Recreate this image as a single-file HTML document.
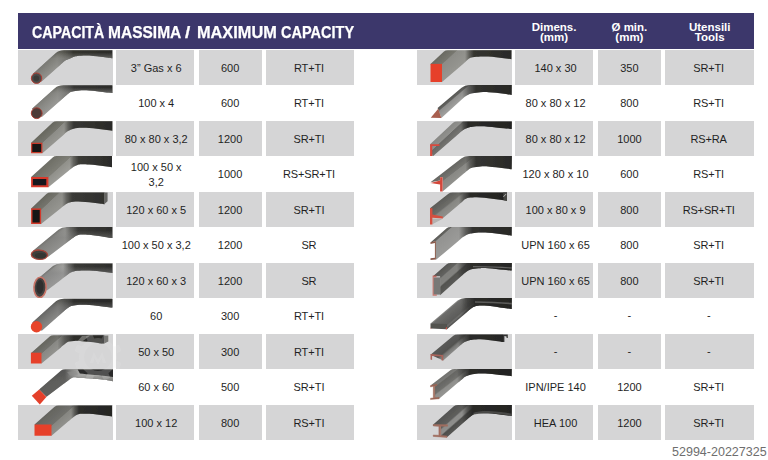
<!DOCTYPE html>
<html lang="it">
<head>
<meta charset="utf-8">
<title>Capacit&agrave; massima / Maximum capacity</title>
<style>
html,body{margin:0;padding:0;}
body{width:768px;height:460px;position:relative;overflow:hidden;background:#fff;font-family:"Liberation Sans",sans-serif;}
.hdr{position:absolute;left:18px;top:13px;width:736.1px;height:36.3px;background:#3c376b;}
.ttl{position:absolute;top:22.9px;color:#fff;font-weight:bold;font-size:15.7px;line-height:20px;white-space:pre;transform-origin:0 50%;-webkit-text-stroke:0.25px #fff;}
.hc{position:absolute;top:21.6px;color:#fff;font-weight:bold;font-size:11.5px;line-height:10.3px;text-align:center;white-space:nowrap;}
.g{position:absolute;background:#d5d5d6;}
.t{position:absolute;box-sizing:border-box;padding-top:1.5px;display:flex;align-items:center;justify-content:center;text-align:center;color:#1f1f1f;font-size:11px;line-height:12.6px;white-space:nowrap;}
.t span{position:relative;display:block;}
.t .a{left:1.5px;}
.t .b{left:-1.1px;letter-spacing:-0.15px;}
.t .m{line-height:15px;}
.im{position:absolute;overflow:hidden;}
.im svg{position:absolute;left:0;top:0;display:block;}
.wm{position:absolute;right:1.4px;top:444.8px;font-size:12.5px;line-height:15px;color:#6e6e6e;white-space:nowrap;}
</style>
</head>
<body>
<svg width="0" height="0" style="position:absolute"><defs><filter id="sb" x="-5%" y="-10%" width="110%" height="120%"><feGaussianBlur stdDeviation="0.45"/></filter></defs></svg>
<div class="hdr"></div>
<div class="ttl" style="left:31.5px;transform:scaleX(0.905)">CAPACIT&Agrave;</div>
<div class="ttl" style="left:108px;transform:scaleX(0.99)">MASSIMA</div>
<div class="ttl" style="left:184.6px;transform:scaleX(1.2)">/</div>
<div class="ttl" style="left:197.3px;transform:scaleX(1.04)">MAXIMUM</div>
<div class="ttl" style="left:280.5px;transform:scaleX(0.925)">CAPACITY</div>
<div class="hc" style="left:515.1px;width:77.9px">Dimens.<br>(mm)</div>
<div class="hc" style="left:597.9px;width:63px">&Oslash; min.<br>(mm)</div>
<div class="hc" style="left:665.4px;width:88.7px">Utensili<br>Tools</div>
<div class="im g" style="left:18px;top:49.5px;width:95.2px;height:35.5px"><svg width="95.2" height="35.5" viewBox="0 0 95.2 35.5"><defs><linearGradient id="L0a" gradientUnits="userSpaceOnUse" x1="14.75" y1="23.9" x2="22.55" y2="32.5"><stop offset="0" stop-color="#5f5f59"/><stop offset="0.35" stop-color="#77776f"/><stop offset="1" stop-color="#a0a09c"/></linearGradient><linearGradient id="L0b" gradientUnits="userSpaceOnUse" x1="38.9" y1="0" x2="95" y2="0"><stop offset="0" stop-color="#35352f" stop-opacity="0"/><stop offset="0.13" stop-color="#35352f" stop-opacity="0.55"/><stop offset="0.29" stop-color="#35352f" stop-opacity="1"/><stop offset="1" stop-color="#2c2c2a" stop-opacity="1"/></linearGradient><linearGradient id="L0c" gradientUnits="userSpaceOnUse" x1="0" y1="2.5" x2="0" y2="8.5"><stop offset="0" stop-color="#8a8a86" stop-opacity="0"/><stop offset="1" stop-color="#8a8a86" stop-opacity="0.6"/></linearGradient></defs><g filter="url(#sb)"><path d="M14.75,23.9 L37.84,2.94 Q40.81,0.25 46.01,0.25 L94.3,0.25 L94.3,8.3 C93.72,8.2 92.68,7.97 90.8,7.7 C88.92,7.43 85.6,7 83,6.7 C80.4,6.4 77.82,6.08 75.2,5.9 C72.58,5.72 69.92,5.58 67.3,5.6 C64.68,5.62 61.38,5.82 59.5,6 C57.62,6.18 57.25,6.28 56,6.7 C54.75,7.12 53.52,7.83 52,8.5 C50.48,9.18 48.5,9.71 46.9,10.75 C45.3,11.79 43.17,14.08 42.42,14.75 L23.1,32 Z" fill="url(#L0a)"/><path d="M14.75,23.9 L37.84,2.94 Q40.81,0.25 46.01,0.25 L94.3,0.25 L94.3,8.3 C93.72,8.2 92.68,7.97 90.8,7.7 C88.92,7.43 85.6,7 83,6.7 C80.4,6.4 77.82,6.08 75.2,5.9 C72.58,5.72 69.92,5.58 67.3,5.6 C64.68,5.62 61.38,5.82 59.5,6 C57.62,6.18 57.25,6.28 56,6.7 C54.75,7.12 53.52,7.83 52,8.5 C50.48,9.18 48.5,9.71 46.9,10.75 C45.3,11.79 43.17,14.08 42.42,14.75 L23.1,32 Z" fill="url(#L0b)"/><path d="M14.75,23.9 L37.84,2.94 Q40.81,0.25 46.01,0.25 L94.3,0.25 L94.3,8.3 C93.72,8.2 92.68,7.97 90.8,7.7 C88.92,7.43 85.6,7 83,6.7 C80.4,6.4 77.82,6.08 75.2,5.9 C72.58,5.72 69.92,5.58 67.3,5.6 C64.68,5.62 61.38,5.82 59.5,6 C57.62,6.18 57.25,6.28 56,6.7 C54.75,7.12 53.52,7.83 52,8.5 C50.48,9.18 48.5,9.71 46.9,10.75 C45.3,11.79 43.17,14.08 42.42,14.75 L23.1,32 Z" fill="url(#L0c)"/><circle cx="18.55" cy="28.2" r="5.2" fill="#4b4b49" stroke="#b33a30" stroke-width="1"/><circle cx="18.3" cy="28.4" r="2.8" fill="#3a3a38"/></g></svg></div>
<div class="t g" style="left:115.5px;top:49.5px;width:78.4px;height:35.5px"><span class="a">3&#8221; Gas x 6</span></div>
<div class="t g" style="left:198.6px;top:49.5px;width:63px;height:35.5px"><span>600</span></div>
<div class="t g" style="left:265.7px;top:49.5px;width:88.7px;height:35.5px"><span class="b">RT+TI</span></div>
<div class="im" style="left:18px;top:85px;width:95.2px;height:35.5px"><svg width="95.2" height="35.5" viewBox="0 0 95.2 35.5"><defs><linearGradient id="L1a" gradientUnits="userSpaceOnUse" x1="14" y1="23.75" x2="22.41" y2="33.1"><stop offset="0" stop-color="#66665f"/><stop offset="0.35" stop-color="#80807b"/><stop offset="1" stop-color="#a8a8a6"/></linearGradient><linearGradient id="L1b" gradientUnits="userSpaceOnUse" x1="39.8" y1="0" x2="95" y2="0"><stop offset="0" stop-color="#353533" stop-opacity="0"/><stop offset="0.13" stop-color="#353533" stop-opacity="0.55"/><stop offset="0.29" stop-color="#353533" stop-opacity="1"/><stop offset="1" stop-color="#2c2c2a" stop-opacity="1"/></linearGradient><linearGradient id="L1c" gradientUnits="userSpaceOnUse" x1="0" y1="2.5" x2="0" y2="8"><stop offset="0" stop-color="#8e8e8a" stop-opacity="0"/><stop offset="1" stop-color="#8e8e8a" stop-opacity="0.6"/></linearGradient></defs><g filter="url(#sb)"><path d="M14,23.75 L37.11,2.97 Q40.08,0.3 45.28,0.3 L94.45,0.3 L94.4,7.9 C93.15,7.78 89.47,7.43 86.9,7.15 C84.33,6.87 81.61,6.49 79,6.2 C76.39,5.91 73.85,5.57 71.25,5.4 C68.65,5.23 66.01,5.07 63.4,5.2 C60.79,5.33 57.55,5.82 55.6,6.2 C53.65,6.58 53,6.75 51.7,7.5 C50.4,8.25 49.2,9.51 47.8,10.7 C46.4,11.89 44.05,14.01 43.3,14.67 L23.75,31.9 Z" fill="url(#L1a)"/><path d="M14,23.75 L37.11,2.97 Q40.08,0.3 45.28,0.3 L94.45,0.3 L94.4,7.9 C93.15,7.78 89.47,7.43 86.9,7.15 C84.33,6.87 81.61,6.49 79,6.2 C76.39,5.91 73.85,5.57 71.25,5.4 C68.65,5.23 66.01,5.07 63.4,5.2 C60.79,5.33 57.55,5.82 55.6,6.2 C53.65,6.58 53,6.75 51.7,7.5 C50.4,8.25 49.2,9.51 47.8,10.7 C46.4,11.89 44.05,14.01 43.3,14.67 L23.75,31.9 Z" fill="url(#L1b)"/><path d="M14,23.75 L37.11,2.97 Q40.08,0.3 45.28,0.3 L94.45,0.3 L94.4,7.9 C93.15,7.78 89.47,7.43 86.9,7.15 C84.33,6.87 81.61,6.49 79,6.2 C76.39,5.91 73.85,5.57 71.25,5.4 C68.65,5.23 66.01,5.07 63.4,5.2 C60.79,5.33 57.55,5.82 55.6,6.2 C53.65,6.58 53,6.75 51.7,7.5 C50.4,8.25 49.2,9.51 47.8,10.7 C46.4,11.89 44.05,14.01 43.3,14.67 L23.75,31.9 Z" fill="url(#L1c)"/><circle cx="18.7" cy="28.2" r="5.4" fill="#4d3b38" stroke="#a8382c" stroke-width="0.9"/></g></svg></div>
<div class="t" style="left:115.5px;top:85px;width:78.4px;height:35.5px"><span class="a">100 x 4</span></div>
<div class="t" style="left:198.6px;top:85px;width:63px;height:35.5px"><span>600</span></div>
<div class="t" style="left:265.7px;top:85px;width:88.7px;height:35.5px"><span class="b">RT+TI</span></div>
<div class="im g" style="left:18px;top:120.5px;width:95.2px;height:35.5px"><svg width="95.2" height="35.5" viewBox="0 0 95.2 35.5"><defs><linearGradient id="L2a" gradientUnits="userSpaceOnUse" x1="13.1" y1="21.75" x2="23.61" y2="32.99"><stop offset="0" stop-color="#68685f"/><stop offset="0.5" stop-color="#75756e"/><stop offset="0.53" stop-color="#8c8c87"/><stop offset="1" stop-color="#969691"/></linearGradient><linearGradient id="L2b" gradientUnits="userSpaceOnUse" x1="46" y1="0" x2="95" y2="0"><stop offset="0" stop-color="#363632" stop-opacity="0"/><stop offset="0.09" stop-color="#363632" stop-opacity="0.55"/><stop offset="0.2" stop-color="#363632" stop-opacity="1"/><stop offset="1" stop-color="#2a2a28" stop-opacity="1"/></linearGradient></defs><g filter="url(#sb)"><path d="M13.1,21.75 L34.68,1.57 Q36.14,0.2 38.74,0.2 L94.3,0.2 L94.3,9.85 C93.07,9.68 89.45,9.17 86.9,8.8 C84.35,8.43 81.61,7.97 79,7.65 C76.39,7.33 73.85,7.06 71.25,6.9 C68.65,6.74 66.01,6.58 63.4,6.7 C60.79,6.83 57.83,7.08 55.6,7.65 C53.37,8.22 51.69,9.04 50,10.1 C48.31,11.16 46.22,13.37 45.46,14.03 L24.4,32.25 Z" fill="url(#L2a)"/><path d="M13.1,21.75 L34.68,1.57 Q36.14,0.2 38.74,0.2 L94.3,0.2 L94.3,9.85 C93.07,9.68 89.45,9.17 86.9,8.8 C84.35,8.43 81.61,7.97 79,7.65 C76.39,7.33 73.85,7.06 71.25,6.9 C68.65,6.74 66.01,6.58 63.4,6.7 C60.79,6.83 57.83,7.08 55.6,7.65 C53.37,8.22 51.69,9.04 50,10.1 C48.31,11.16 46.22,13.37 45.46,14.03 L24.4,32.25 Z" fill="url(#L2b)"/><rect x="13.7" y="22.35" width="10.1" height="9.3" fill="#151513" stroke="#cf3a2b" stroke-width="1.2"/></g></svg></div>
<div class="t g" style="left:115.5px;top:120.5px;width:78.4px;height:35.5px"><span class="a">80 x 80 x 3,2</span></div>
<div class="t g" style="left:198.6px;top:120.5px;width:63px;height:35.5px"><span>1200</span></div>
<div class="t g" style="left:265.7px;top:120.5px;width:88.7px;height:35.5px"><span class="b">SR+TI</span></div>
<div class="im" style="left:18px;top:156px;width:95.2px;height:35.5px"><svg width="95.2" height="35.5" viewBox="0 0 95.2 35.5"><defs><linearGradient id="L3a" gradientUnits="userSpaceOnUse" x1="13.1" y1="21" x2="26.01" y2="35.23"><stop offset="0" stop-color="#6e6e66"/><stop offset="0.6" stop-color="#7e7e76"/><stop offset="0.63" stop-color="#90908a"/><stop offset="1" stop-color="#9c9c97"/></linearGradient><linearGradient id="L3b" gradientUnits="userSpaceOnUse" x1="51.5" y1="0" x2="95" y2="0"><stop offset="0" stop-color="#3b3b37" stop-opacity="0"/><stop offset="0.09" stop-color="#3b3b37" stop-opacity="0.55"/><stop offset="0.21" stop-color="#3b3b37" stop-opacity="1"/><stop offset="1" stop-color="#2a2a28" stop-opacity="1"/></linearGradient></defs><g filter="url(#sb)"><path d="M13.1,21 L34.67,1.44 Q36.15,0.1 38.75,0.1 L94,0.1 L94,11.2 C92.82,11.05 89.4,10.62 86.9,10.3 C84.4,9.98 81.61,9.58 79,9.3 C76.39,9.02 73.85,8.77 71.25,8.6 C68.65,8.43 65.36,8.25 63.4,8.3 C61.44,8.35 60.8,8.5 59.5,8.9 C58.2,9.3 57.02,9.77 55.6,10.7 C54.18,11.63 51.73,13.86 50.95,14.49 L30.4,31.25 Z" fill="url(#L3a)"/><path d="M13.1,21 L34.67,1.44 Q36.15,0.1 38.75,0.1 L94,0.1 L94,11.2 C92.82,11.05 89.4,10.62 86.9,10.3 C84.4,9.98 81.61,9.58 79,9.3 C76.39,9.02 73.85,8.77 71.25,8.6 C68.65,8.43 65.36,8.25 63.4,8.3 C61.44,8.35 60.8,8.5 59.5,8.9 C58.2,9.3 57.02,9.77 55.6,10.7 C54.18,11.63 51.73,13.86 50.95,14.49 L30.4,31.25 Z" fill="url(#L3b)"/><rect x="13.1" y="21" width="17.3" height="10.25" fill="#d8392b"/><rect x="14.9" y="23" width="13.4" height="6.3" fill="#17171a"/></g></svg></div>
<div class="t" style="left:115.5px;top:156px;width:78.4px;height:35.5px"><span class="a m">100 x 50 x<br>3,2</span></div>
<div class="t" style="left:198.6px;top:156px;width:63px;height:35.5px"><span>1000</span></div>
<div class="t" style="left:265.7px;top:156px;width:88.7px;height:35.5px"><span class="b">RS+SR+TI</span></div>
<div class="im g" style="left:18px;top:191.5px;width:95.2px;height:35.5px"><svg width="95.2" height="35.5" viewBox="0 0 95.2 35.5"><defs><linearGradient id="L4a" gradientUnits="userSpaceOnUse" x1="13.1" y1="16.4" x2="25.58" y2="29.67"><stop offset="0" stop-color="#67675f"/><stop offset="0.42" stop-color="#74746d"/><stop offset="0.45" stop-color="#898984"/><stop offset="1" stop-color="#94948f"/></linearGradient><linearGradient id="L4b" gradientUnits="userSpaceOnUse" x1="44" y1="0" x2="95" y2="0"><stop offset="0" stop-color="#3a3a37" stop-opacity="0"/><stop offset="0.09" stop-color="#3a3a37" stop-opacity="0.55"/><stop offset="0.2" stop-color="#3a3a37" stop-opacity="1"/><stop offset="1" stop-color="#2e2e2c" stop-opacity="1"/></linearGradient></defs><g filter="url(#sb)"><path d="M13.1,16.4 L28.65,1.77 Q30.11,0.4 32.71,0.4 L86.5,0.4 L86.5,12.2 C85.92,12.12 84.88,11.93 83,11.7 C81.12,11.47 77.82,11.08 75.2,10.8 C72.58,10.52 69.92,10.2 67.3,10 C64.68,9.8 62.1,9.53 59.5,9.6 C56.9,9.67 53.65,9.95 51.7,10.4 C49.75,10.85 49.23,11.36 47.8,12.3 C46.37,13.24 43.89,15.42 43.11,16.04 L23.1,32 Z" fill="url(#L4a)"/><path d="M13.1,16.4 L28.65,1.77 Q30.11,0.4 32.71,0.4 L86.5,0.4 L86.5,12.2 C85.92,12.12 84.88,11.93 83,11.7 C81.12,11.47 77.82,11.08 75.2,10.8 C72.58,10.52 69.92,10.2 67.3,10 C64.68,9.8 62.1,9.53 59.5,9.6 C56.9,9.67 53.65,9.95 51.7,10.4 C49.75,10.85 49.23,11.36 47.8,12.3 C46.37,13.24 43.89,15.42 43.11,16.04 L23.1,32 Z" fill="url(#L4b)"/><path d="M86.3,0.5 L89.6,0.5 L89.6,9.2 L86.3,12.2 Z" fill="#666663"/><rect x="13.1" y="16.4" width="10" height="15.6" fill="#d2382a"/><rect x="14.5" y="17.9" width="7.2" height="12.6" fill="#141412"/></g></svg></div>
<div class="t g" style="left:115.5px;top:191.5px;width:78.4px;height:35.5px"><span class="a">120 x 60 x 5</span></div>
<div class="t g" style="left:198.6px;top:191.5px;width:63px;height:35.5px"><span>1200</span></div>
<div class="t g" style="left:265.7px;top:191.5px;width:88.7px;height:35.5px"><span class="b">SR+TI</span></div>
<div class="im" style="left:18px;top:227px;width:95.2px;height:35.5px"><svg width="95.2" height="35.5" viewBox="0 0 95.2 35.5"><defs><linearGradient id="L5a" gradientUnits="userSpaceOnUse" x1="14.8" y1="24.1" x2="23.85" y2="34.93"><stop offset="0" stop-color="#70706c"/><stop offset="0.2" stop-color="#8a8a87"/><stop offset="1" stop-color="#a8a8a6"/></linearGradient><linearGradient id="L5b" gradientUnits="userSpaceOnUse" x1="47" y1="0" x2="95" y2="0"><stop offset="0" stop-color="#3a3a37" stop-opacity="0"/><stop offset="0.12" stop-color="#3a3a37" stop-opacity="0.55"/><stop offset="0.27" stop-color="#3a3a37" stop-opacity="1"/><stop offset="1" stop-color="#2d2d2b" stop-opacity="1"/></linearGradient><linearGradient id="L5c" gradientUnits="userSpaceOnUse" x1="0" y1="3.5" x2="0" y2="10.5"><stop offset="0" stop-color="#7a7a77" stop-opacity="0"/><stop offset="1" stop-color="#7a7a77" stop-opacity="0.5"/></linearGradient></defs><g filter="url(#sb)"><path d="M14.8,24.1 L40.45,2.67 Q43.52,0.1 48.72,0.1 L94.45,0.1 L94.4,11 C93.15,10.82 89.47,10.28 86.9,9.9 C84.33,9.52 81.61,9.05 79,8.7 C76.39,8.35 73.85,8 71.25,7.8 C68.65,7.6 65.36,7.42 63.4,7.5 C61.44,7.58 60.57,7.98 59.5,8.3 C58.43,8.62 57.92,8.85 57,9.4 C56.08,9.95 55.3,10.63 54,11.6 C52.7,12.57 50.01,14.62 49.22,15.22 L30.1,29.7 L21.45,27.75 Z" fill="url(#L5a)"/><path d="M14.8,24.1 L40.45,2.67 Q43.52,0.1 48.72,0.1 L94.45,0.1 L94.4,11 C93.15,10.82 89.47,10.28 86.9,9.9 C84.33,9.52 81.61,9.05 79,8.7 C76.39,8.35 73.85,8 71.25,7.8 C68.65,7.6 65.36,7.42 63.4,7.5 C61.44,7.58 60.57,7.98 59.5,8.3 C58.43,8.62 57.92,8.85 57,9.4 C56.08,9.95 55.3,10.63 54,11.6 C52.7,12.57 50.01,14.62 49.22,15.22 L30.1,29.7 L21.45,27.75 Z" fill="url(#L5b)"/><path d="M14.8,24.1 L40.45,2.67 Q43.52,0.1 48.72,0.1 L94.45,0.1 L94.4,11 C93.15,10.82 89.47,10.28 86.9,9.9 C84.33,9.52 81.61,9.05 79,8.7 C76.39,8.35 73.85,8 71.25,7.8 C68.65,7.6 65.36,7.42 63.4,7.5 C61.44,7.58 60.57,7.98 59.5,8.3 C58.43,8.62 57.92,8.85 57,9.4 C56.08,9.95 55.3,10.63 54,11.6 C52.7,12.57 50.01,14.62 49.22,15.22 L30.1,29.7 L21.45,27.75 Z" fill="url(#L5c)"/><g transform="rotate(4 21.45 27.75)"><ellipse cx="21.45" cy="27.75" rx="8.1" ry="4.7" fill="#3f3f3d" stroke="#a8443a" stroke-width="1.3"/><ellipse cx="22.6" cy="28.5" rx="5.6" ry="2.6" fill="#343432"/></g></g></svg></div>
<div class="t" style="left:115.5px;top:227px;width:78.4px;height:35.5px"><span class="a">100 x 50 x 3,2</span></div>
<div class="t" style="left:198.6px;top:227px;width:63px;height:35.5px"><span>1200</span></div>
<div class="t" style="left:265.7px;top:227px;width:88.7px;height:35.5px"><span class="b">SR</span></div>
<div class="im g" style="left:18px;top:262.5px;width:95.2px;height:35.5px"><svg width="95.2" height="35.5" viewBox="0 0 95.2 35.5"><defs><linearGradient id="L6a" gradientUnits="userSpaceOnUse" x1="22.05" y1="14" x2="31.61" y2="25.31"><stop offset="0" stop-color="#6a6a66"/><stop offset="0.15" stop-color="#92928f"/><stop offset="1" stop-color="#b4b4b2"/></linearGradient><linearGradient id="L6b" gradientUnits="userSpaceOnUse" x1="45" y1="0" x2="95" y2="0"><stop offset="0" stop-color="#3a3a37" stop-opacity="0"/><stop offset="0.11" stop-color="#3a3a37" stop-opacity="0.55"/><stop offset="0.24" stop-color="#3a3a37" stop-opacity="1"/><stop offset="1" stop-color="#2d2d2b" stop-opacity="1"/></linearGradient><linearGradient id="L6c" gradientUnits="userSpaceOnUse" x1="0" y1="3.5" x2="0" y2="10"><stop offset="0" stop-color="#808080" stop-opacity="0"/><stop offset="1" stop-color="#808080" stop-opacity="0.55"/></linearGradient></defs><g filter="url(#sb)"><path d="M22.05,14 L35.01,3.03 Q38.07,0.45 43.27,0.45 L94.45,0.45 L94.4,10 C93.15,9.85 89.47,9.43 86.9,9.1 C84.33,8.77 81.61,8.27 79,8 C76.39,7.73 73.85,7.58 71.25,7.5 C68.65,7.42 66.01,7.35 63.4,7.5 C60.79,7.65 57.55,7.98 55.6,8.4 C53.65,8.82 53,9.22 51.7,10 C50.4,10.78 49.24,11.97 47.8,13.1 C46.36,14.23 43.83,16.14 43.04,16.75 L28.9,27.6 L22.05,24.4 Z" fill="url(#L6a)"/><path d="M22.05,14 L35.01,3.03 Q38.07,0.45 43.27,0.45 L94.45,0.45 L94.4,10 C93.15,9.85 89.47,9.43 86.9,9.1 C84.33,8.77 81.61,8.27 79,8 C76.39,7.73 73.85,7.58 71.25,7.5 C68.65,7.42 66.01,7.35 63.4,7.5 C60.79,7.65 57.55,7.98 55.6,8.4 C53.65,8.82 53,9.22 51.7,10 C50.4,10.78 49.24,11.97 47.8,13.1 C46.36,14.23 43.83,16.14 43.04,16.75 L28.9,27.6 L22.05,24.4 Z" fill="url(#L6b)"/><path d="M22.05,14 L35.01,3.03 Q38.07,0.45 43.27,0.45 L94.45,0.45 L94.4,10 C93.15,9.85 89.47,9.43 86.9,9.1 C84.33,8.77 81.61,8.27 79,8 C76.39,7.73 73.85,7.58 71.25,7.5 C68.65,7.42 66.01,7.35 63.4,7.5 C60.79,7.65 57.55,7.98 55.6,8.4 C53.65,8.82 53,9.22 51.7,10 C50.4,10.78 49.24,11.97 47.8,13.1 C46.36,14.23 43.83,16.14 43.04,16.75 L28.9,27.6 L22.05,24.4 Z" fill="url(#L6c)"/><g transform="rotate(3 22.05 24.4)"><ellipse cx="22.05" cy="24.4" rx="6.1" ry="10.1" fill="#424240" stroke="#c87468" stroke-width="1.6"/><ellipse cx="21.9" cy="24" rx="3.6" ry="7" fill="#2f2f2d"/></g></g></svg></div>
<div class="t g" style="left:115.5px;top:262.5px;width:78.4px;height:35.5px"><span class="a">120 x 60 x 3</span></div>
<div class="t g" style="left:198.6px;top:262.5px;width:63px;height:35.5px"><span>1200</span></div>
<div class="t g" style="left:265.7px;top:262.5px;width:88.7px;height:35.5px"><span class="b">SR</span></div>
<div class="im" style="left:18px;top:298px;width:95.2px;height:35.5px"><svg width="95.2" height="35.5" viewBox="0 0 95.2 35.5"><defs><linearGradient id="L7a" gradientUnits="userSpaceOnUse" x1="14.4" y1="24.4" x2="22.71" y2="33.68"><stop offset="0" stop-color="#585855"/><stop offset="0.4" stop-color="#767672"/><stop offset="1" stop-color="#9a9a97"/></linearGradient><linearGradient id="L7b" gradientUnits="userSpaceOnUse" x1="39.8" y1="0" x2="95" y2="0"><stop offset="0" stop-color="#2f2f2d" stop-opacity="0"/><stop offset="0.13" stop-color="#2f2f2d" stop-opacity="0.55"/><stop offset="0.29" stop-color="#2f2f2d" stop-opacity="1"/><stop offset="1" stop-color="#2a2a28" stop-opacity="1"/></linearGradient><linearGradient id="L7c" gradientUnits="userSpaceOnUse" x1="0" y1="3.5" x2="0" y2="9.5"><stop offset="0" stop-color="#777" stop-opacity="0"/><stop offset="1" stop-color="#777" stop-opacity="0.5"/></linearGradient></defs><g filter="url(#sb)"><path d="M14.4,24.4 L37.91,3.37 Q40.89,0.7 46.09,0.7 L94.45,0.7 L94.4,9.5 C93.15,9.37 89.47,8.98 86.9,8.7 C84.33,8.42 81.61,8.08 79,7.8 C76.39,7.52 73.85,7.17 71.25,7 C68.65,6.83 66.01,6.67 63.4,6.75 C60.79,6.83 57.55,7.17 55.6,7.5 C53.65,7.83 53,8.04 51.7,8.7 C50.4,9.36 49.2,10.33 47.8,11.45 C46.4,12.57 44.06,14.77 43.31,15.43 L23.75,32.75 Z" fill="url(#L7a)"/><path d="M14.4,24.4 L37.91,3.37 Q40.89,0.7 46.09,0.7 L94.45,0.7 L94.4,9.5 C93.15,9.37 89.47,8.98 86.9,8.7 C84.33,8.42 81.61,8.08 79,7.8 C76.39,7.52 73.85,7.17 71.25,7 C68.65,6.83 66.01,6.67 63.4,6.75 C60.79,6.83 57.55,7.17 55.6,7.5 C53.65,7.83 53,8.04 51.7,8.7 C50.4,9.36 49.2,10.33 47.8,11.45 C46.4,12.57 44.06,14.77 43.31,15.43 L23.75,32.75 Z" fill="url(#L7b)"/><path d="M14.4,24.4 L37.91,3.37 Q40.89,0.7 46.09,0.7 L94.45,0.7 L94.4,9.5 C93.15,9.37 89.47,8.98 86.9,8.7 C84.33,8.42 81.61,8.08 79,7.8 C76.39,7.52 73.85,7.17 71.25,7 C68.65,6.83 66.01,6.67 63.4,6.75 C60.79,6.83 57.55,7.17 55.6,7.5 C53.65,7.83 53,8.04 51.7,8.7 C50.4,9.36 49.2,10.33 47.8,11.45 C46.4,12.57 44.06,14.77 43.31,15.43 L23.75,32.75 Z" fill="url(#L7c)"/><circle cx="18.5" cy="28.8" r="5.7" fill="#e7442b"/></g></svg></div>
<div class="t" style="left:115.5px;top:298px;width:78.4px;height:35.5px"><span class="a">60</span></div>
<div class="t" style="left:198.6px;top:298px;width:63px;height:35.5px"><span>300</span></div>
<div class="t" style="left:265.7px;top:298px;width:88.7px;height:35.5px"><span class="b">RT+TI</span></div>
<div class="im g" style="left:18px;top:333.5px;width:95.2px;height:35.5px"><svg width="95.2" height="35.5" viewBox="0 0 95.2 35.5"><defs><linearGradient id="L8a" gradientUnits="userSpaceOnUse" x1="13.1" y1="18.9" x2="22.86" y2="30.06"><stop offset="0" stop-color="#66665f"/><stop offset="0.48" stop-color="#72726d"/><stop offset="0.52" stop-color="#888884"/><stop offset="1" stop-color="#92928e"/></linearGradient><linearGradient id="L8b" gradientUnits="userSpaceOnUse" x1="39.5" y1="0" x2="95" y2="0"><stop offset="0" stop-color="#2f2f2c" stop-opacity="0"/><stop offset="0.13" stop-color="#2f2f2c" stop-opacity="0.55"/><stop offset="0.29" stop-color="#2f2f2c" stop-opacity="1"/><stop offset="1" stop-color="#262624" stop-opacity="1"/></linearGradient></defs><g filter="url(#sb)"><path d="M13.1,18.9 L31.71,2.62 Q33.21,1.3 35.81,1.3 L86.3,1.3 L86.3,9.6 C85.88,9.57 86,9.67 83.75,9.4 C81.5,9.13 76.42,8.42 72.8,8 C69.17,7.58 64.8,7.08 62,6.9 C59.2,6.72 57.83,6.78 56,6.9 C54.17,7.02 52.42,7.15 51,7.6 C49.58,8.05 48.85,8.63 47.5,9.6 C46.15,10.57 43.65,12.79 42.88,13.43 L23.5,29.5 Z" fill="url(#L8a)"/><path d="M13.1,18.9 L31.71,2.62 Q33.21,1.3 35.81,1.3 L86.3,1.3 L86.3,9.6 C85.88,9.57 86,9.67 83.75,9.4 C81.5,9.13 76.42,8.42 72.8,8 C69.17,7.58 64.8,7.08 62,6.9 C59.2,6.72 57.83,6.78 56,6.9 C54.17,7.02 52.42,7.15 51,7.6 C49.58,8.05 48.85,8.63 47.5,9.6 C46.15,10.57 43.65,12.79 42.88,13.43 L23.5,29.5 Z" fill="url(#L8b)"/><path d="M59.7,6.9 L64,2.1 L72,1.8 L64.8,6.9 Z" fill="#8a8a87" opacity="0.7"/><path d="M85.8,1.5 L90.3,1.5 L90.3,7.4 L86.3,9.6 Z" fill="#5c5c58"/><rect x="12.9" y="18.7" width="10.6" height="10.8" fill="#e6412c"/></g></svg></div>
<div class="t g" style="left:115.5px;top:333.5px;width:78.4px;height:35.5px"><span class="a">50 x 50</span></div>
<div class="t g" style="left:198.6px;top:333.5px;width:63px;height:35.5px"><span>300</span></div>
<div class="t g" style="left:265.7px;top:333.5px;width:88.7px;height:35.5px"><span class="b">RT+TI</span></div>
<div class="im" style="left:18px;top:369px;width:95.2px;height:35.5px"><svg width="95.2" height="35.5" viewBox="0 0 95.2 35.5"><defs><linearGradient id="L9a" gradientUnits="userSpaceOnUse" x1="21.25" y1="20.6" x2="27.92" y2="28.26"><stop offset="0" stop-color="#555553"/><stop offset="1" stop-color="#5e5e5c"/></linearGradient><linearGradient id="L9b" gradientUnits="userSpaceOnUse" x1="47" y1="0" x2="95" y2="0"><stop offset="0" stop-color="#a6a6a4" stop-opacity="0"/><stop offset="0.13" stop-color="#a6a6a4" stop-opacity="0.55"/><stop offset="0.29" stop-color="#a6a6a4" stop-opacity="1"/><stop offset="1" stop-color="#9a9a98" stop-opacity="1"/></linearGradient><linearGradient id="L9c" gradientUnits="userSpaceOnUse" x1="0" y1="6.5" x2="0" y2="12.5"><stop offset="0" stop-color="#62625f" stop-opacity="0"/><stop offset="1" stop-color="#62625f" stop-opacity="0.55"/></linearGradient></defs><g filter="url(#sb)"><path d="M21.25,20.6 L43.05,1.61 Q44.55,0.3 47.15,0.3 L95.1,0.3 L95.1,12.3 C93.82,12.05 90.5,11.23 87.4,10.8 C84.3,10.37 80.73,10.02 76.5,9.7 C72.27,9.38 65.5,9.13 62,8.9 C58.5,8.67 57.42,7.92 55.5,8.3 C53.58,8.68 52.13,10.12 50.5,11.2 C48.87,12.28 46.5,14.21 45.71,14.81 L28.5,27.75 Z" fill="url(#L9a)"/><path d="M21.25,20.6 L43.05,1.61 Q44.55,0.3 47.15,0.3 L95.1,0.3 L95.1,12.3 C93.82,12.05 90.5,11.23 87.4,10.8 C84.3,10.37 80.73,10.02 76.5,9.7 C72.27,9.38 65.5,9.13 62,8.9 C58.5,8.67 57.42,7.92 55.5,8.3 C53.58,8.68 52.13,10.12 50.5,11.2 C48.87,12.28 46.5,14.21 45.71,14.81 L28.5,27.75 Z" fill="url(#L9b)"/><path d="M21.25,20.6 L43.05,1.61 Q44.55,0.3 47.15,0.3 L95.1,0.3 L95.1,12.3 C93.82,12.05 90.5,11.23 87.4,10.8 C84.3,10.37 80.73,10.02 76.5,9.7 C72.27,9.38 65.5,9.13 62,8.9 C58.5,8.67 57.42,7.92 55.5,8.3 C53.58,8.68 52.13,10.12 50.5,11.2 C48.87,12.28 46.5,14.21 45.71,14.81 L28.5,27.75 Z" fill="url(#L9c)"/><path d="M59.7,0.4 L95.1,0.4 L95.1,7.9 C88,7 82,6.4 76.5,6.0 C70,5.5 66,5 61.9,4.6 Z" fill="#2b2b29"/><path d="M49,3 L58,2 L60,5.4 L52,6.4 Z" fill="#8e8e8c" opacity="0.55"/><path d="M13.8,26.8 L21.2,20.4 L28.4,27.9 L21.8,35.4 Z" fill="#e43f2b"/></g></svg></div>
<div class="t" style="left:115.5px;top:369px;width:78.4px;height:35.5px"><span class="a">60 x 60</span></div>
<div class="t" style="left:198.6px;top:369px;width:63px;height:35.5px"><span>500</span></div>
<div class="t" style="left:265.7px;top:369px;width:88.7px;height:35.5px"><span class="b">SR+TI</span></div>
<div class="im g" style="left:18px;top:404.5px;width:95.2px;height:35.5px"><svg width="95.2" height="35.5" viewBox="0 0 95.2 35.5"><defs><linearGradient id="L10a" gradientUnits="userSpaceOnUse" x1="16.5" y1="19.5" x2="29.51" y2="34.27"><stop offset="0" stop-color="#64645f"/><stop offset="0.6" stop-color="#70706c"/><stop offset="0.64" stop-color="#868681"/><stop offset="1" stop-color="#90908c"/></linearGradient><linearGradient id="L10b" gradientUnits="userSpaceOnUse" x1="53" y1="0" x2="95" y2="0"><stop offset="0" stop-color="#2e2e2c" stop-opacity="0"/><stop offset="0.09" stop-color="#2e2e2c" stop-opacity="0.55"/><stop offset="0.19" stop-color="#2e2e2c" stop-opacity="1"/><stop offset="1" stop-color="#242422" stop-opacity="1"/></linearGradient></defs><g filter="url(#sb)"><path d="M16.5,19.5 L36.57,1.82 Q38.07,0.5 40.67,0.5 L94,0.5 L94,11.4 C92.82,11.23 89.4,10.7 86.9,10.4 C84.4,10.1 81.61,9.87 79,9.6 C76.39,9.33 73.85,8.93 71.25,8.8 C68.65,8.67 65.36,8.67 63.4,8.8 C61.44,8.93 60.8,9.07 59.5,9.6 C58.2,10.12 57.01,10.91 55.6,11.95 C54.19,12.99 51.79,15.19 51.03,15.84 L33.5,30.75 Z" fill="url(#L10a)"/><path d="M16.5,19.5 L36.57,1.82 Q38.07,0.5 40.67,0.5 L94,0.5 L94,11.4 C92.82,11.23 89.4,10.7 86.9,10.4 C84.4,10.1 81.61,9.87 79,9.6 C76.39,9.33 73.85,8.93 71.25,8.8 C68.65,8.67 65.36,8.67 63.4,8.8 C61.44,8.93 60.8,9.07 59.5,9.6 C58.2,10.12 57.01,10.91 55.6,11.95 C54.19,12.99 51.79,15.19 51.03,15.84 L33.5,30.75 Z" fill="url(#L10b)"/><rect x="16.5" y="19.5" width="17" height="11.25" fill="#e6412c"/></g></svg></div>
<div class="t g" style="left:115.5px;top:404.5px;width:78.4px;height:35.5px"><span class="a">100 x 12</span></div>
<div class="t g" style="left:198.6px;top:404.5px;width:63px;height:35.5px"><span>800</span></div>
<div class="t g" style="left:265.7px;top:404.5px;width:88.7px;height:35.5px"><span class="b">RS+TI</span></div>
<div class="im g" style="left:417px;top:49.5px;width:95.1px;height:35.5px"><svg width="95.1" height="35.5" viewBox="0 0 95.1 35.5"><defs><linearGradient id="R0a" gradientUnits="userSpaceOnUse" x1="13.5" y1="13.9" x2="27.77" y2="29.45"><stop offset="0" stop-color="#6a6a62"/><stop offset="0.36" stop-color="#77776f"/><stop offset="0.4" stop-color="#8c8c87"/><stop offset="1" stop-color="#969691"/></linearGradient><linearGradient id="R0b" gradientUnits="userSpaceOnUse" x1="48" y1="0" x2="95" y2="0"><stop offset="0" stop-color="#34342f" stop-opacity="0"/><stop offset="0.09" stop-color="#34342f" stop-opacity="0.55"/><stop offset="0.19" stop-color="#34342f" stop-opacity="1"/><stop offset="1" stop-color="#2a2a28" stop-opacity="1"/></linearGradient></defs><g filter="url(#sb)"><path d="M13.5,13.9 L26.95,1.55 Q28.43,0.2 31.03,0.2 L94.45,0.2 L94.4,9.2 C93.15,9.05 89.47,8.62 86.9,8.3 C84.33,7.98 81.61,7.6 79,7.3 C76.39,7 73.85,6.63 71.25,6.5 C68.65,6.37 66.01,6.37 63.4,6.5 C60.79,6.63 57.55,6.92 55.6,7.3 C53.65,7.68 52.92,8.02 51.7,8.8 C50.48,9.58 49.63,10.82 48.3,12 C46.97,13.18 44.51,15.26 43.75,15.91 L25,32 Z" fill="url(#R0a)"/><path d="M13.5,13.9 L26.95,1.55 Q28.43,0.2 31.03,0.2 L94.45,0.2 L94.4,9.2 C93.15,9.05 89.47,8.62 86.9,8.3 C84.33,7.98 81.61,7.6 79,7.3 C76.39,7 73.85,6.63 71.25,6.5 C68.65,6.37 66.01,6.37 63.4,6.5 C60.79,6.63 57.55,6.92 55.6,7.3 C53.65,7.68 52.92,8.02 51.7,8.8 C50.48,9.58 49.63,10.82 48.3,12 C46.97,13.18 44.51,15.26 43.75,15.91 L25,32 Z" fill="url(#R0b)"/><rect x="13.5" y="13.9" width="11.5" height="18.1" fill="#e6412c"/></g></svg></div>
<div class="t g" style="left:515.1px;top:49.5px;width:77.9px;height:35.5px"><span class="a">140 x 30</span></div>
<div class="t g" style="left:597.9px;top:49.5px;width:63px;height:35.5px"><span>350</span></div>
<div class="t g" style="left:665.4px;top:49.5px;width:88.7px;height:35.5px"><span class="b">SR+TI</span></div>
<div class="im" style="left:417px;top:85px;width:95.1px;height:35.5px"><svg width="95.1" height="35.5" viewBox="0 0 95.1 35.5"><defs><linearGradient id="R1a" gradientUnits="userSpaceOnUse" x1="20.6" y1="23.1" x2="27.13" y2="30.77"><stop offset="0" stop-color="#555552"/><stop offset="0.25" stop-color="#62625f"/><stop offset="0.34" stop-color="#8e8e8c"/><stop offset="1" stop-color="#a2a2a0"/></linearGradient><linearGradient id="R1b" gradientUnits="userSpaceOnUse" x1="45" y1="0" x2="95" y2="0"><stop offset="0" stop-color="#31312f" stop-opacity="0"/><stop offset="0.13" stop-color="#31312f" stop-opacity="0.55"/><stop offset="0.28" stop-color="#31312f" stop-opacity="1"/><stop offset="1" stop-color="#282826" stop-opacity="1"/></linearGradient></defs><g filter="url(#sb)"><path d="M20.6,23.1 L44.56,2.69 Q47.6,0.1 52.8,0.1 L94.8,0.1 L94.7,9.9 C93.4,9.7 89.52,9.05 86.9,8.7 C84.28,8.35 81.61,8.06 79,7.8 C76.39,7.54 73.85,7.23 71.25,7.15 C68.65,7.07 66.01,7.11 63.4,7.3 C60.79,7.49 57.55,7.93 55.6,8.3 C53.65,8.67 53,8.92 51.7,9.5 C50.4,10.08 49.19,10.74 47.8,11.8 C46.41,12.86 44.1,15.17 43.36,15.84 L24.4,33.1 Z" fill="url(#R1a)"/><path d="M20.6,23.1 L44.56,2.69 Q47.6,0.1 52.8,0.1 L94.8,0.1 L94.7,9.9 C93.4,9.7 89.52,9.05 86.9,8.7 C84.28,8.35 81.61,8.06 79,7.8 C76.39,7.54 73.85,7.23 71.25,7.15 C68.65,7.07 66.01,7.11 63.4,7.3 C60.79,7.49 57.55,7.93 55.6,8.3 C53.65,8.67 53,8.92 51.7,9.5 C50.4,10.08 49.19,10.74 47.8,11.8 C46.41,12.86 44.1,15.17 43.36,15.84 L24.4,33.1 Z" fill="url(#R1b)"/><path d="M13.75,32.75 L21.25,23.75 L24.4,33.1 Z" fill="#a85e4f"/></g></svg></div>
<div class="t" style="left:515.1px;top:85px;width:77.9px;height:35.5px"><span class="a">80 x 80 x 12</span></div>
<div class="t" style="left:597.9px;top:85px;width:63px;height:35.5px"><span>800</span></div>
<div class="t" style="left:665.4px;top:85px;width:88.7px;height:35.5px"><span class="b">RS+TI</span></div>
<div class="im g" style="left:417px;top:120.5px;width:95.1px;height:35.5px"><svg width="95.1" height="35.5" viewBox="0 0 95.1 35.5"><defs><linearGradient id="R2a" gradientUnits="userSpaceOnUse" x1="13.1" y1="23.25" x2="20.37" y2="31.05"><stop offset="0" stop-color="#888885"/><stop offset="0.5" stop-color="#90908d"/><stop offset="0.56" stop-color="#686865"/><stop offset="1" stop-color="#72726f"/></linearGradient><linearGradient id="R2b" gradientUnits="userSpaceOnUse" x1="44" y1="0" x2="95" y2="0"><stop offset="0" stop-color="#2a2a28" stop-opacity="0"/><stop offset="0.06" stop-color="#2a2a28" stop-opacity="0.55"/><stop offset="0.14" stop-color="#2a2a28" stop-opacity="1"/><stop offset="1" stop-color="#242422" stop-opacity="1"/></linearGradient></defs><g filter="url(#sb)"><path d="M13.1,23.25 L36.09,1.81 Q37.55,0.45 40.15,0.45 L94.8,0.45 L94.7,8 C93.4,7.88 89.52,7.55 86.9,7.3 C84.28,7.05 81.61,6.77 79,6.5 C76.39,6.23 73.85,5.9 71.25,5.7 C68.65,5.5 66.01,5.3 63.4,5.3 C60.79,5.3 57.55,5.5 55.6,5.7 C53.65,5.9 53,6.12 51.7,6.5 C50.4,6.88 49.08,7.3 47.8,8 C46.52,8.7 45.39,9.59 44,10.7 C42.61,11.81 40.23,13.99 39.48,14.65 L15.6,35.5 Z" fill="url(#R2a)"/><path d="M13.1,23.25 L36.09,1.81 Q37.55,0.45 40.15,0.45 L94.8,0.45 L94.7,8 C93.4,7.88 89.52,7.55 86.9,7.3 C84.28,7.05 81.61,6.77 79,6.5 C76.39,6.23 73.85,5.9 71.25,5.7 C68.65,5.5 66.01,5.3 63.4,5.3 C60.79,5.3 57.55,5.5 55.6,5.7 C53.65,5.9 53,6.12 51.7,6.5 C50.4,6.88 49.08,7.3 47.8,8 C46.52,8.7 45.39,9.59 44,10.7 C42.61,11.81 40.23,13.99 39.48,14.65 L15.6,35.5 Z" fill="url(#R2b)"/><path d="M13.1,23.25 L22.5,23.25 L22.5,25.1 L15.25,25.1 L15.25,35.5 L13.1,35.5 Z" fill="#d8493c"/></g></svg></div>
<div class="t g" style="left:515.1px;top:120.5px;width:77.9px;height:35.5px"><span class="a">80 x 80 x 12</span></div>
<div class="t g" style="left:597.9px;top:120.5px;width:63px;height:35.5px"><span>1000</span></div>
<div class="t g" style="left:665.4px;top:120.5px;width:88.7px;height:35.5px"><span class="b">RS+RA</span></div>
<div class="im" style="left:417px;top:156px;width:95.1px;height:35.5px"><svg width="95.1" height="35.5" viewBox="0 0 95.1 35.5"><defs><linearGradient id="R3a" gradientUnits="userSpaceOnUse" x1="13.5" y1="26.25" x2="22.53" y2="37.97"><stop offset="0" stop-color="#666662"/><stop offset="0.42" stop-color="#747470"/><stop offset="0.46" stop-color="#888884"/><stop offset="1" stop-color="#92928e"/></linearGradient><linearGradient id="R3b" gradientUnits="userSpaceOnUse" x1="48.5" y1="0" x2="95" y2="0"><stop offset="0" stop-color="#353532" stop-opacity="0"/><stop offset="0.1" stop-color="#353532" stop-opacity="0.55"/><stop offset="0.23" stop-color="#353532" stop-opacity="1"/><stop offset="1" stop-color="#2a2a28" stop-opacity="1"/></linearGradient></defs><g filter="url(#sb)"><path d="M13.5,26.25 L44.25,2.54 Q47.42,0.1 52.62,0.1 L94.9,0.1 L94.7,13.25 C93.4,13.07 89.52,12.52 86.9,12.2 C84.28,11.88 81.61,11.6 79,11.3 C76.39,11 73.85,10.55 71.25,10.4 C68.65,10.25 66.01,10.23 63.4,10.4 C60.79,10.57 57.55,10.95 55.6,11.45 C53.65,11.95 53.11,12.43 51.7,13.4 C50.29,14.37 47.89,16.64 47.13,17.29 L25.6,35.6 L25.6,21.25 L23.1,21.25 L23.1,24.6 Z" fill="url(#R3a)"/><path d="M13.5,26.25 L44.25,2.54 Q47.42,0.1 52.62,0.1 L94.9,0.1 L94.7,13.25 C93.4,13.07 89.52,12.52 86.9,12.2 C84.28,11.88 81.61,11.6 79,11.3 C76.39,11 73.85,10.55 71.25,10.4 C68.65,10.25 66.01,10.23 63.4,10.4 C60.79,10.57 57.55,10.95 55.6,11.45 C53.65,11.95 53.11,12.43 51.7,13.4 C50.29,14.37 47.89,16.64 47.13,17.29 L25.6,35.6 L25.6,21.25 L23.1,21.25 L23.1,24.6 Z" fill="url(#R3b)"/><path d="M13.5,26.9 L23.1,24.6 L23.1,21.25 L25.6,21.25 L25.6,35.6 L23.1,35.6 L23.1,28.4 Z" fill="#d4473a"/></g></svg></div>
<div class="t" style="left:515.1px;top:156px;width:77.9px;height:35.5px"><span class="a">120 x 80 x 10</span></div>
<div class="t" style="left:597.9px;top:156px;width:63px;height:35.5px"><span>600</span></div>
<div class="t" style="left:665.4px;top:156px;width:88.7px;height:35.5px"><span class="b">RS+TI</span></div>
<div class="im g" style="left:417px;top:191.5px;width:95.1px;height:35.5px"><svg width="95.1" height="35.5" viewBox="0 0 95.1 35.5"><defs><linearGradient id="R4a" gradientUnits="userSpaceOnUse" x1="13" y1="16.3" x2="22.76" y2="28.61"><stop offset="0" stop-color="#5c5c58"/><stop offset="0.5" stop-color="#6c6c68"/><stop offset="0.6" stop-color="#868682"/><stop offset="1" stop-color="#90908c"/></linearGradient><linearGradient id="R4b" gradientUnits="userSpaceOnUse" x1="42" y1="0" x2="95" y2="0"><stop offset="0" stop-color="#2a2a28" stop-opacity="0"/><stop offset="0.09" stop-color="#2a2a28" stop-opacity="0.55"/><stop offset="0.21" stop-color="#2a2a28" stop-opacity="1"/><stop offset="1" stop-color="#222220" stop-opacity="1"/></linearGradient></defs><g filter="url(#sb)"><path d="M13,16.3 L31.42,1.69 Q32.99,0.45 35.59,0.45 L90,0.45 L90,8.8 C88.83,8.63 85.47,8.15 83,7.8 C80.53,7.45 77.82,7.05 75.2,6.7 C72.58,6.35 69.92,5.96 67.3,5.7 C64.68,5.44 62.1,5.15 59.5,5.15 C56.9,5.15 53.65,5.34 51.7,5.7 C49.75,6.06 48.83,6.67 47.8,7.3 C46.77,7.93 46.65,8.49 45.5,9.5 C44.35,10.51 41.69,12.73 40.92,13.38 L25.8,26.2 L15.4,24.5 L13,24.5 Z" fill="url(#R4a)"/><path d="M13,16.3 L31.42,1.69 Q32.99,0.45 35.59,0.45 L90,0.45 L90,8.8 C88.83,8.63 85.47,8.15 83,7.8 C80.53,7.45 77.82,7.05 75.2,6.7 C72.58,6.35 69.92,5.96 67.3,5.7 C64.68,5.44 62.1,5.15 59.5,5.15 C56.9,5.15 53.65,5.34 51.7,5.7 C49.75,6.06 48.83,6.67 47.8,7.3 C46.77,7.93 46.65,8.49 45.5,9.5 C44.35,10.51 41.69,12.73 40.92,13.38 L25.8,26.2 L15.4,24.5 L13,24.5 Z" fill="url(#R4b)"/><path d="M86.2,0.5 L90,0.5 L90,8.8 L86.6,8.2 Z" fill="#454542"/><path d="M86.1,4.4 L89,1.7 L89.4,2.3 L86.6,5 Z" fill="#ddd" opacity="0.8"/><path d="M15.4,26.4 L25.8,26.8 L15.4,32.2 Z" fill="#b4b2b0"/><path d="M13,16.3 L15.4,16.3 L15.4,22.5 L25.8,24.5 L25.8,26.6 L15.4,25.8 L15.4,32.4 L13,32.4 Z" fill="#d5503f"/></g></svg></div>
<div class="t g" style="left:515.1px;top:191.5px;width:77.9px;height:35.5px"><span class="a">100 x 80 x 9</span></div>
<div class="t g" style="left:597.9px;top:191.5px;width:63px;height:35.5px"><span>800</span></div>
<div class="t g" style="left:665.4px;top:191.5px;width:88.7px;height:35.5px"><span class="b">RS+SR+TI</span></div>
<div class="im" style="left:417px;top:227px;width:95.1px;height:35.5px"><svg width="95.1" height="35.5" viewBox="0 0 95.1 35.5"><defs><linearGradient id="R5a" gradientUnits="userSpaceOnUse" x1="13.5" y1="15.5" x2="24.51" y2="28.05"><stop offset="0" stop-color="#5a5a56"/><stop offset="0.12" stop-color="#646460"/><stop offset="0.17" stop-color="#929290"/><stop offset="1" stop-color="#9b9b99"/></linearGradient><linearGradient id="R5b" gradientUnits="userSpaceOnUse" x1="42" y1="0" x2="95" y2="0"><stop offset="0" stop-color="#31312f" stop-opacity="0"/><stop offset="0.12" stop-color="#31312f" stop-opacity="0.55"/><stop offset="0.26" stop-color="#31312f" stop-opacity="1"/><stop offset="1" stop-color="#282826" stop-opacity="1"/></linearGradient></defs><g filter="url(#sb)"><path d="M13.5,15.5 L29.67,1.32 Q31.17,0 33.77,0 L94.8,0 L94.7,8.7 C93.4,8.5 89.52,7.87 86.9,7.5 C84.28,7.13 81.61,6.79 79,6.5 C76.39,6.21 73.85,5.9 71.25,5.75 C68.65,5.6 66.01,5.52 63.4,5.6 C60.79,5.67 57.55,5.97 55.6,6.2 C53.65,6.43 53.3,6.37 51.7,7 C50.1,7.63 47.71,8.85 46,10 C44.29,11.15 42.19,13.23 41.42,13.88 L18.75,33.1 L18.75,14.2 Z" fill="url(#R5a)"/><path d="M13.5,15.5 L29.67,1.32 Q31.17,0 33.77,0 L94.8,0 L94.7,8.7 C93.4,8.5 89.52,7.87 86.9,7.5 C84.28,7.13 81.61,6.79 79,6.5 C76.39,6.21 73.85,5.9 71.25,5.75 C68.65,5.6 66.01,5.52 63.4,5.6 C60.79,5.67 57.55,5.97 55.6,6.2 C53.65,6.43 53.3,6.37 51.7,7 C50.1,7.63 47.71,8.85 46,10 C44.29,11.15 42.19,13.23 41.42,13.88 L18.75,33.1 L18.75,14.2 Z" fill="url(#R5b)"/><path d="M13.5,15.2 L18.9,14.0 L18.9,32.6 L13.5,33.0 L13.5,31.3 L17.9,30.7 L17.9,16.0 L13.5,16.9 Z" fill="#8a5a4c"/></g></svg></div>
<div class="t" style="left:515.1px;top:227px;width:77.9px;height:35.5px"><span class="a">UPN 160 x 65</span></div>
<div class="t" style="left:597.9px;top:227px;width:63px;height:35.5px"><span>800</span></div>
<div class="t" style="left:665.4px;top:227px;width:88.7px;height:35.5px"><span class="b">SR+TI</span></div>
<div class="im g" style="left:417px;top:262.5px;width:95.1px;height:35.5px"><svg width="95.1" height="35.5" viewBox="0 0 95.1 35.5"><defs><linearGradient id="R6a" gradientUnits="userSpaceOnUse" x1="16" y1="13.25" x2="28.49" y2="27.55"><stop offset="0" stop-color="#565653"/><stop offset="0.3" stop-color="#62625f"/><stop offset="0.36" stop-color="#80807d"/><stop offset="0.62" stop-color="#82827f"/><stop offset="0.7" stop-color="#52524f"/><stop offset="1" stop-color="#5b5b58"/></linearGradient><linearGradient id="R6b" gradientUnits="userSpaceOnUse" x1="40" y1="0" x2="95" y2="0"><stop offset="0" stop-color="#2e2e2c" stop-opacity="0"/><stop offset="0.11" stop-color="#2e2e2c" stop-opacity="0.55"/><stop offset="0.25" stop-color="#2e2e2c" stop-opacity="1"/><stop offset="1" stop-color="#262624" stop-opacity="1"/></linearGradient></defs><g filter="url(#sb)"><path d="M16,13.25 L29.67,1.32 Q31.17,0 33.77,0 L94.8,0 L94.7,7.5 C93.4,7.37 89.52,6.97 86.9,6.7 C84.28,6.43 81.61,6.13 79,5.9 C76.39,5.67 73.85,5.42 71.25,5.3 C68.65,5.17 66.01,5.05 63.4,5.15 C60.79,5.25 57.55,5.54 55.6,5.9 C53.65,6.26 53,6.62 51.7,7.3 C50.4,7.98 49.19,8.88 47.8,10 C46.41,11.12 44.09,13.35 43.34,14.02 L23.1,32.25 L23.1,13.25 Z" fill="url(#R6a)"/><path d="M16,13.25 L29.67,1.32 Q31.17,0 33.77,0 L94.8,0 L94.7,7.5 C93.4,7.37 89.52,6.97 86.9,6.7 C84.28,6.43 81.61,6.13 79,5.9 C76.39,5.67 73.85,5.42 71.25,5.3 C68.65,5.17 66.01,5.05 63.4,5.15 C60.79,5.25 57.55,5.54 55.6,5.9 C53.65,6.26 53,6.62 51.7,7.3 C50.4,7.98 49.19,8.88 47.8,10 C46.41,11.12 44.09,13.35 43.34,14.02 L23.1,32.25 L23.1,13.25 Z" fill="url(#R6b)"/><path d="M56,3 C68,3.1 82,3.5 95,4.4 L95,5.6 C82,4.6 68,4.3 56,4.2 Z" fill="#7a7a78" opacity="0.75"/><path d="M16.4,14.4 L23.3,14.4 L23.3,31.6 L16.4,31.6 Z" fill="#787876"/><path d="M15.6,12.6 L19.5,12.6 L19.5,14.2 L16.6,14.2 L16.6,31.4 L19.8,31.4 L19.8,32.7 L15.6,32.7 Z" fill="#c4574b" opacity="0.75"/></g></svg></div>
<div class="t g" style="left:515.1px;top:262.5px;width:77.9px;height:35.5px"><span class="a">UPN 160 x 65</span></div>
<div class="t g" style="left:597.9px;top:262.5px;width:63px;height:35.5px"><span>800</span></div>
<div class="t g" style="left:665.4px;top:262.5px;width:88.7px;height:35.5px"><span class="b">SR+TI</span></div>
<div class="im" style="left:417px;top:298px;width:95.1px;height:35.5px"><svg width="95.1" height="35.5" viewBox="0 0 95.1 35.5"><defs><linearGradient id="R7a" gradientUnits="userSpaceOnUse" x1="13.5" y1="25.6" x2="23.2" y2="37.02"><stop offset="0" stop-color="#8a8a88"/><stop offset="0.1" stop-color="#6c6c6a"/><stop offset="0.75" stop-color="#5c5c5a"/><stop offset="0.85" stop-color="#6e6e6c"/><stop offset="1" stop-color="#4c4c4a"/></linearGradient><linearGradient id="R7b" gradientUnits="userSpaceOnUse" x1="44" y1="0" x2="95" y2="0"><stop offset="0" stop-color="#2b2b29" stop-opacity="0"/><stop offset="0.12" stop-color="#2b2b29" stop-opacity="0.55"/><stop offset="0.27" stop-color="#2b2b29" stop-opacity="1"/><stop offset="1" stop-color="#242422" stop-opacity="1"/></linearGradient></defs><g filter="url(#sb)"><path d="M13.5,25.6 L40.6,2.59 Q43.65,0 48.85,0 L94.8,0 L94.7,10.9 C94.05,10.82 92.75,10.63 90.8,10.4 C88.85,10.17 85.6,9.85 83,9.5 C80.4,9.15 77.82,8.63 75.2,8.3 C72.58,7.97 69.92,7.57 67.3,7.5 C64.68,7.43 61.45,7.57 59.5,7.9 C57.55,8.23 56.85,8.77 55.6,9.5 C54.35,10.23 53.36,11.18 52,12.3 C50.64,13.42 48.21,15.56 47.45,16.22 L30,31.25 Z" fill="url(#R7a)"/><path d="M13.5,25.6 L40.6,2.59 Q43.65,0 48.85,0 L94.8,0 L94.7,10.9 C94.05,10.82 92.75,10.63 90.8,10.4 C88.85,10.17 85.6,9.85 83,9.5 C80.4,9.15 77.82,8.63 75.2,8.3 C72.58,7.97 69.92,7.57 67.3,7.5 C64.68,7.43 61.45,7.57 59.5,7.9 C57.55,8.23 56.85,8.77 55.6,9.5 C54.35,10.23 53.36,11.18 52,12.3 C50.64,13.42 48.21,15.56 47.45,16.22 L30,31.25 Z" fill="url(#R7b)"/><path d="M58,3.2 C70,3.4 82,3.9 95,4.8 L95,6.4 C82,5.4 70,4.9 58,4.8 Z" fill="#6e6e6c" opacity="0.75"/><path d="M13.5,25.6 L30,25.9 L30,31.25 L13.5,30.6 Z" fill="#525250"/><path d="M13.5,29.4 L14.8,30.6 L13.5,30.6 Z M28.6,30 L30,28.8 L30,31.25 L28.6,31.2 Z" fill="#c8564a"/></g></svg></div>
<div class="t" style="left:515.1px;top:298px;width:77.9px;height:35.5px"><span style="top:-1px" class="a">-</span></div>
<div class="t" style="left:597.9px;top:298px;width:63px;height:35.5px"><span style="top:-1px">-</span></div>
<div class="t" style="left:665.4px;top:298px;width:88.7px;height:35.5px"><span style="top:-1px" class="b">-</span></div>
<div class="im g" style="left:417px;top:333.5px;width:95.1px;height:35.5px"><svg width="95.1" height="35.5" viewBox="0 0 95.1 35.5"><defs><linearGradient id="R8a" gradientUnits="userSpaceOnUse" x1="13.5" y1="20.75" x2="21.5" y2="30.35"><stop offset="0" stop-color="#5a5a58"/><stop offset="0.55" stop-color="#525250"/><stop offset="0.7" stop-color="#767674"/><stop offset="1" stop-color="#8e8e8c"/></linearGradient><linearGradient id="R8b" gradientUnits="userSpaceOnUse" x1="41" y1="0" x2="95" y2="0"><stop offset="0" stop-color="#2c2c2a" stop-opacity="0"/><stop offset="0.1" stop-color="#2c2c2a" stop-opacity="0.55"/><stop offset="0.22" stop-color="#2c2c2a" stop-opacity="1"/><stop offset="1" stop-color="#262624" stop-opacity="1"/></linearGradient></defs><g filter="url(#sb)"><path d="M13.5,20.75 L36.32,1.73 Q37.86,0.45 40.46,0.45 L86.1,0.45 L86.1,8 C84.92,7.82 81.47,7.25 79,6.9 C76.53,6.55 73.85,6.17 71.25,5.9 C68.65,5.63 66.01,5.33 63.4,5.3 C60.79,5.27 57.55,5.5 55.6,5.7 C53.65,5.9 53,6.12 51.7,6.5 C50.4,6.88 48.83,7.48 47.8,8 C46.77,8.52 46.64,8.68 45.5,9.6 C44.36,10.52 41.73,12.89 40.98,13.55 L26.25,26.4 Z" fill="url(#R8a)"/><path d="M13.5,20.75 L36.32,1.73 Q37.86,0.45 40.46,0.45 L86.1,0.45 L86.1,8 C84.92,7.82 81.47,7.25 79,6.9 C76.53,6.55 73.85,6.17 71.25,5.9 C68.65,5.63 66.01,5.33 63.4,5.3 C60.79,5.27 57.55,5.5 55.6,5.7 C53.65,5.9 53,6.12 51.7,6.5 C50.4,6.88 48.83,7.48 47.8,8 C46.77,8.52 46.64,8.68 45.5,9.6 C44.36,10.52 41.73,12.89 40.98,13.55 L26.25,26.4 Z" fill="url(#R8b)"/><path d="M86,0.5 L90.8,0.5 L90.8,4.1 L89.6,4.1 L89.6,2.6 L87.4,2.0 L87.4,8.0 L86,8.0 Z" fill="#333331"/><path d="M13.5,20.1 L26.25,21 L26.25,26.6 L24.6,26.4 L24.6,22.6 L15.1,22 L15.1,26 L13.5,25.6 Z" fill="#a9645a"/></g></svg></div>
<div class="t g" style="left:515.1px;top:333.5px;width:77.9px;height:35.5px"><span style="top:-1px" class="a">-</span></div>
<div class="t g" style="left:597.9px;top:333.5px;width:63px;height:35.5px"><span style="top:-1px">-</span></div>
<div class="t g" style="left:665.4px;top:333.5px;width:88.7px;height:35.5px"><span style="top:-1px" class="b">-</span></div>
<div class="im" style="left:417px;top:369px;width:95.1px;height:35.5px"><svg width="95.1" height="35.5" viewBox="0 0 95.1 35.5"><defs><linearGradient id="R9a" gradientUnits="userSpaceOnUse" x1="13.5" y1="16.5" x2="23.13" y2="29.01"><stop offset="0" stop-color="#72726f"/><stop offset="0.2" stop-color="#7a7a77"/><stop offset="0.27" stop-color="#666663"/><stop offset="0.6" stop-color="#70706d"/><stop offset="0.68" stop-color="#8e8e8b"/><stop offset="1" stop-color="#969693"/></linearGradient><linearGradient id="R9b" gradientUnits="userSpaceOnUse" x1="40" y1="0" x2="95" y2="0"><stop offset="0" stop-color="#2a2a28" stop-opacity="0"/><stop offset="0.11" stop-color="#2a2a28" stop-opacity="0.55"/><stop offset="0.24" stop-color="#2a2a28" stop-opacity="1"/><stop offset="1" stop-color="#222220" stop-opacity="1"/></linearGradient></defs><g filter="url(#sb)"><path d="M13.5,16.5 L33.35,1.22 Q34.94,0 37.54,0 L94.8,0 L94.7,7.15 C93.4,6.99 89.52,6.49 86.9,6.2 C84.28,5.91 81.61,5.66 79,5.4 C76.39,5.14 73.85,4.82 71.25,4.65 C68.65,4.48 66.01,4.31 63.4,4.4 C60.79,4.49 57.55,4.9 55.6,5.2 C53.65,5.5 53,5.75 51.7,6.2 C50.4,6.65 48.75,7.37 47.8,7.9 C46.85,8.43 47.06,8.5 46,9.4 C44.94,10.3 42.2,12.65 41.44,13.3 L22.1,29.8 L17.8,29.3 L17.8,17 Z" fill="url(#R9a)"/><path d="M13.5,16.5 L33.35,1.22 Q34.94,0 37.54,0 L94.8,0 L94.7,7.15 C93.4,6.99 89.52,6.49 86.9,6.2 C84.28,5.91 81.61,5.66 79,5.4 C76.39,5.14 73.85,4.82 71.25,4.65 C68.65,4.48 66.01,4.31 63.4,4.4 C60.79,4.49 57.55,4.9 55.6,5.2 C53.65,5.5 53,5.75 51.7,6.2 C50.4,6.65 48.75,7.37 47.8,7.9 C46.85,8.43 47.06,8.5 46,9.4 C44.94,10.3 42.2,12.65 41.44,13.3 L22.1,29.8 L17.8,29.3 L17.8,17 Z" fill="url(#R9b)"/><path d="M13.5,16.6 L19.9,15.1 L19.9,16.5 L17.8,17.0 L17.8,28.7 L22.1,28.3 L22.1,29.8 L13.5,30.6 L13.5,29.2 L16.3,28.9 L16.3,17.3 L13.5,18.0 Z" fill="#9a6454" stroke="#9a6454" stroke-width="0.4"/></g></svg></div>
<div class="t" style="left:515.1px;top:369px;width:77.9px;height:35.5px"><span class="a">IPN/IPE 140</span></div>
<div class="t" style="left:597.9px;top:369px;width:63px;height:35.5px"><span>1200</span></div>
<div class="t" style="left:665.4px;top:369px;width:88.7px;height:35.5px"><span class="b">SR+TI</span></div>
<div class="im g" style="left:417px;top:404.5px;width:95.1px;height:35.5px"><svg width="95.1" height="35.5" viewBox="0 0 95.1 35.5"><defs><linearGradient id="R10a" gradientUnits="userSpaceOnUse" x1="16.25" y1="19.5" x2="28.59" y2="33.49"><stop offset="0" stop-color="#545452"/><stop offset="0.42" stop-color="#5e5e5c"/><stop offset="0.5" stop-color="#8c8c8a"/><stop offset="0.68" stop-color="#8e8e8c"/><stop offset="0.76" stop-color="#4e4e4c"/><stop offset="1" stop-color="#565654"/></linearGradient><linearGradient id="R10b" gradientUnits="userSpaceOnUse" x1="45" y1="0" x2="95" y2="0"><stop offset="0" stop-color="#2a2a28" stop-opacity="0"/><stop offset="0.1" stop-color="#2a2a28" stop-opacity="0.55"/><stop offset="0.22" stop-color="#2a2a28" stop-opacity="1"/><stop offset="1" stop-color="#242422" stop-opacity="1"/></linearGradient></defs><g filter="url(#sb)"><path d="M16.25,19.5 L36.85,1.32 Q38.35,0 40.95,0 L94.8,0 L94.7,10.9 C93.4,10.75 89.52,10.3 86.9,10 C84.28,9.7 81.61,9.38 79,9.1 C76.39,8.82 73.85,8.43 71.25,8.3 C68.65,8.17 65.36,8.25 63.4,8.3 C61.44,8.35 60.8,8.32 59.5,8.6 C58.2,8.88 56.8,9.33 55.6,10 C54.4,10.67 53.6,11.51 52.3,12.6 C51,13.69 48.55,15.91 47.8,16.57 L30,32.25 L23.75,31 L23.75,21.2 L16.25,21 Z" fill="url(#R10a)"/><path d="M16.25,19.5 L36.85,1.32 Q38.35,0 40.95,0 L94.8,0 L94.7,10.9 C93.4,10.75 89.52,10.3 86.9,10 C84.28,9.7 81.61,9.38 79,9.1 C76.39,8.82 73.85,8.43 71.25,8.3 C68.65,8.17 65.36,8.25 63.4,8.3 C61.44,8.35 60.8,8.32 59.5,8.6 C58.2,8.88 56.8,9.33 55.6,10 C54.4,10.67 53.6,11.51 52.3,12.6 C51,13.69 48.55,15.91 47.8,16.57 L30,32.25 L23.75,31 L23.75,21.2 L16.25,21 Z" fill="url(#R10b)"/><path d="M56,8 C60,6.4 66,6.0 71.25,6.1 C80,6.4 88,7.6 95,8.8 L95,11 C88,9.9 80,8.5 71.25,8.3 C66,8.2 61,8.6 57.5,9.6 Z" fill="#525250" opacity="0.8"/><path d="M16.25,19.5 L30.6,19.7 L30.6,21.2 L23.75,21.2 L23.75,30.4 L30,31 L30,32.4 L16.25,31.4 L16.25,30 L21.9,30.3 L21.9,21.2 L16.25,21 Z" fill="#a06e60" stroke="#a06e60" stroke-width="0.5"/></g></svg></div>
<div class="t g" style="left:515.1px;top:404.5px;width:77.9px;height:35.5px"><span class="a">HEA 100</span></div>
<div class="t g" style="left:597.9px;top:404.5px;width:63px;height:35.5px"><span>1200</span></div>
<div class="t g" style="left:665.4px;top:404.5px;width:88.7px;height:35.5px"><span class="b">SR+TI</span></div>
<svg class="gw" width="60" height="64" viewBox="0 0 60 64" style="position:absolute;left:68px;top:325px;opacity:0.2;pointer-events:none"><g fill="#e8e8e8"><rect x="45.4" y="36.3" width="7" height="7" rx="1.5" transform="rotate(22.5 48.9 39.8)"/><rect x="34.3" y="47.4" width="7" height="7" rx="1.5" transform="rotate(67.5 37.8 50.9)"/><rect x="18.7" y="47.4" width="7" height="7" rx="1.5" transform="rotate(112.5 22.2 50.9)"/><rect x="7.6" y="36.3" width="7" height="7" rx="1.5" transform="rotate(157.5 11.1 39.8)"/><rect x="7.6" y="20.7" width="7" height="7" rx="1.5" transform="rotate(202.5 11.1 24.2)"/><rect x="18.7" y="9.6" width="7" height="7" rx="1.5" transform="rotate(247.5 22.2 13.1)"/><rect x="34.3" y="9.6" width="7" height="7" rx="1.5" transform="rotate(292.5 37.8 13.1)"/><rect x="45.4" y="20.7" width="7" height="7" rx="1.5" transform="rotate(337.5 48.9 24.2)"/><path fill-rule="evenodd" d="M30,13 a19,19 0 1,0 0.01,0 Z M30,18 a14,14 0 1,1 -0.01,0 Z"/><path d="M22,38 L26,27 L30,35 L34,27 L38,38 L35,38 L33.5,33 L30,40 L26.5,33 L25,38 Z"/></g></svg>
<div class="wm">52994-20227325</div>
</body>
</html>
